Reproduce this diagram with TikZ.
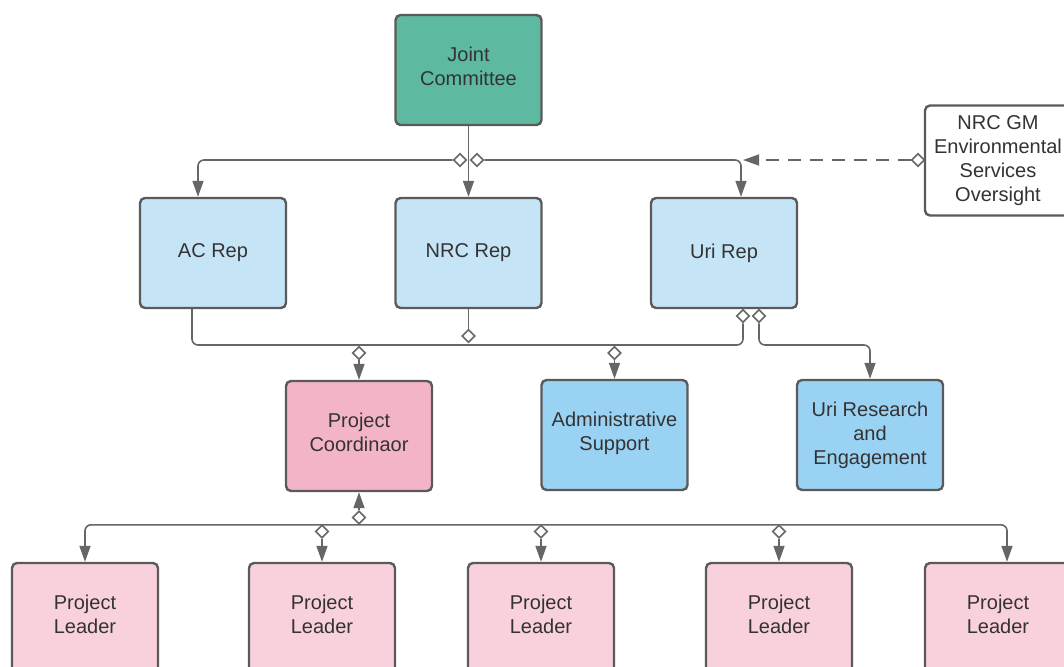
\documentclass[tikz,border=0pt]{standalone}
\usepackage{fontspec}
\setmainfont{Liberation Sans}
\usetikzlibrary{arrows.meta,shapes.geometric}
\definecolor{jcteal}{HTML}{5DB9A0}
\definecolor{repblue}{HTML}{C5E5F7}
\definecolor{supblue}{HTML}{9AD2F3}
\definecolor{pcpink}{HTML}{F4B4C7}
\definecolor{plpink}{HTML}{F9D1DC}
\definecolor{bordergray}{HTML}{5A5A5A}
\definecolor{linegray}{HTML}{666666}
\definecolor{textgray}{HTML}{333333}
\begin{document}
\begin{tikzpicture}[x=1pt,y=-1pt,
  box/.style={draw=bordergray, line width=2.4pt, rounded corners=5pt,
    minimum width=146pt, minimum height=110pt, align=center, text=textgray,
    font=\fontsize{20}{24}\selectfont, inner sep=0pt},
  two/.style={execute at end node={\rule[-7pt]{0pt}{7pt}}},
  dia/.style={diamond, draw=linegray, fill=white, line width=1.6pt,
    minimum width=13pt, minimum height=13pt, inner sep=0pt},
  conn/.style={draw=linegray, line width=1.6pt},
  arr/.style={conn, -{Triangle[length=16pt,width=11pt]}},
  rc/.style={rounded corners=6pt},
  dashline/.style={dash pattern=on 13pt off 9pt}]
\useasboundingbox (0,0) rectangle (1064,666);
\clip (0,0) rectangle (1064,666);
% boxes
\node[box, two, fill=jcteal] (jc) at (468.5,70) {Joint\\Committee};
\node[box, fill=repblue] (ac) at (213,253) {AC Rep};
\node[box, fill=repblue] (nrc) at (468.5,253) {NRC Rep};
\node[box, fill=repblue] (uri) at (724,253) {Uri Rep};
\node[box, fill=white] (gm) at (998,160.5) {NRC GM\\Environmental\\Services\\Oversight\rule[-3pt]{0pt}{3pt}};
\node[box, two, fill=pcpink] (pc) at (359,436) {Project\\Coordinaor};
\node[box, two, fill=supblue] (as) at (614.5,435) {Administrative\\Support};
\node[box, fill=supblue] (ure) at (870,435) {Uri Research\\and\\Engagement};
\node[box, two, fill=plpink] (pl1) at (85,618) {Project\\Leader};
\node[box, two, fill=plpink] (pl2) at (322,618) {Project\\Leader};
\node[box, two, fill=plpink] (pl3) at (541,618) {Project\\Leader};
\node[box, two, fill=plpink] (pl4) at (779,618) {Project\\Leader};
\node[box, two, fill=plpink] (pl5) at (998,618) {Project\\Leader};
% diamonds
\node[dia] (d1) at (460,160) {};
\node[dia] (d2) at (477,160) {};
\node[dia] (d3) at (918,160) {};
\node[dia] (d4) at (468.5,336) {};
\node[dia] (d5) at (743,316) {};
\node[dia] (d6) at (759,316) {};
\node[dia] (d7) at (359,353) {};
\node[dia] (d8) at (614.5,353) {};
\node[dia] (d9) at (359,517.5) {};
\node[dia] (d10) at (322,531.5) {};
\node[dia] (d11) at (541,531.5) {};
\node[dia] (d12) at (779,531.5) {};
\coordinate (tip) at (743,160);
\coordinate (b1) at (743,345);
\coordinate (b2) at (820,345);
% connectors
\draw[arr] (jc.south) -- (nrc.north);
\draw[arr,rc] (d1.west) -| ([xshift=-15pt]ac.north);
\draw[arr,rc] (d2.east) -| ([xshift=17pt]uri.north);
\draw[arr,dashline] (d3.west) -- (tip);
\draw[conn,rc] ([xshift=-21pt]ac.south) |- (b1) -- (d5.south);
\draw[conn] (nrc.south) -- (d4.north);
\draw[arr,rc] (d6.south) |- (b2) -| (ure.north);
\draw[arr] (d7.south) -- (pc.north);
\draw[arr] (d8.south) -- (as.north);
\draw[arr] (d9.north) -- (pc.south);
\draw[arr,rc] (d9.south) -| (pl1.north);
\draw[arr,rc] (d9.south) -| ([xshift=9pt]pl5.north);
\draw[arr] (d10.south) -- (pl2.north);
\draw[arr] (d11.south) -- (pl3.north);
\draw[arr] (d12.south) -- (pl4.north);
\end{tikzpicture}
\end{document}
